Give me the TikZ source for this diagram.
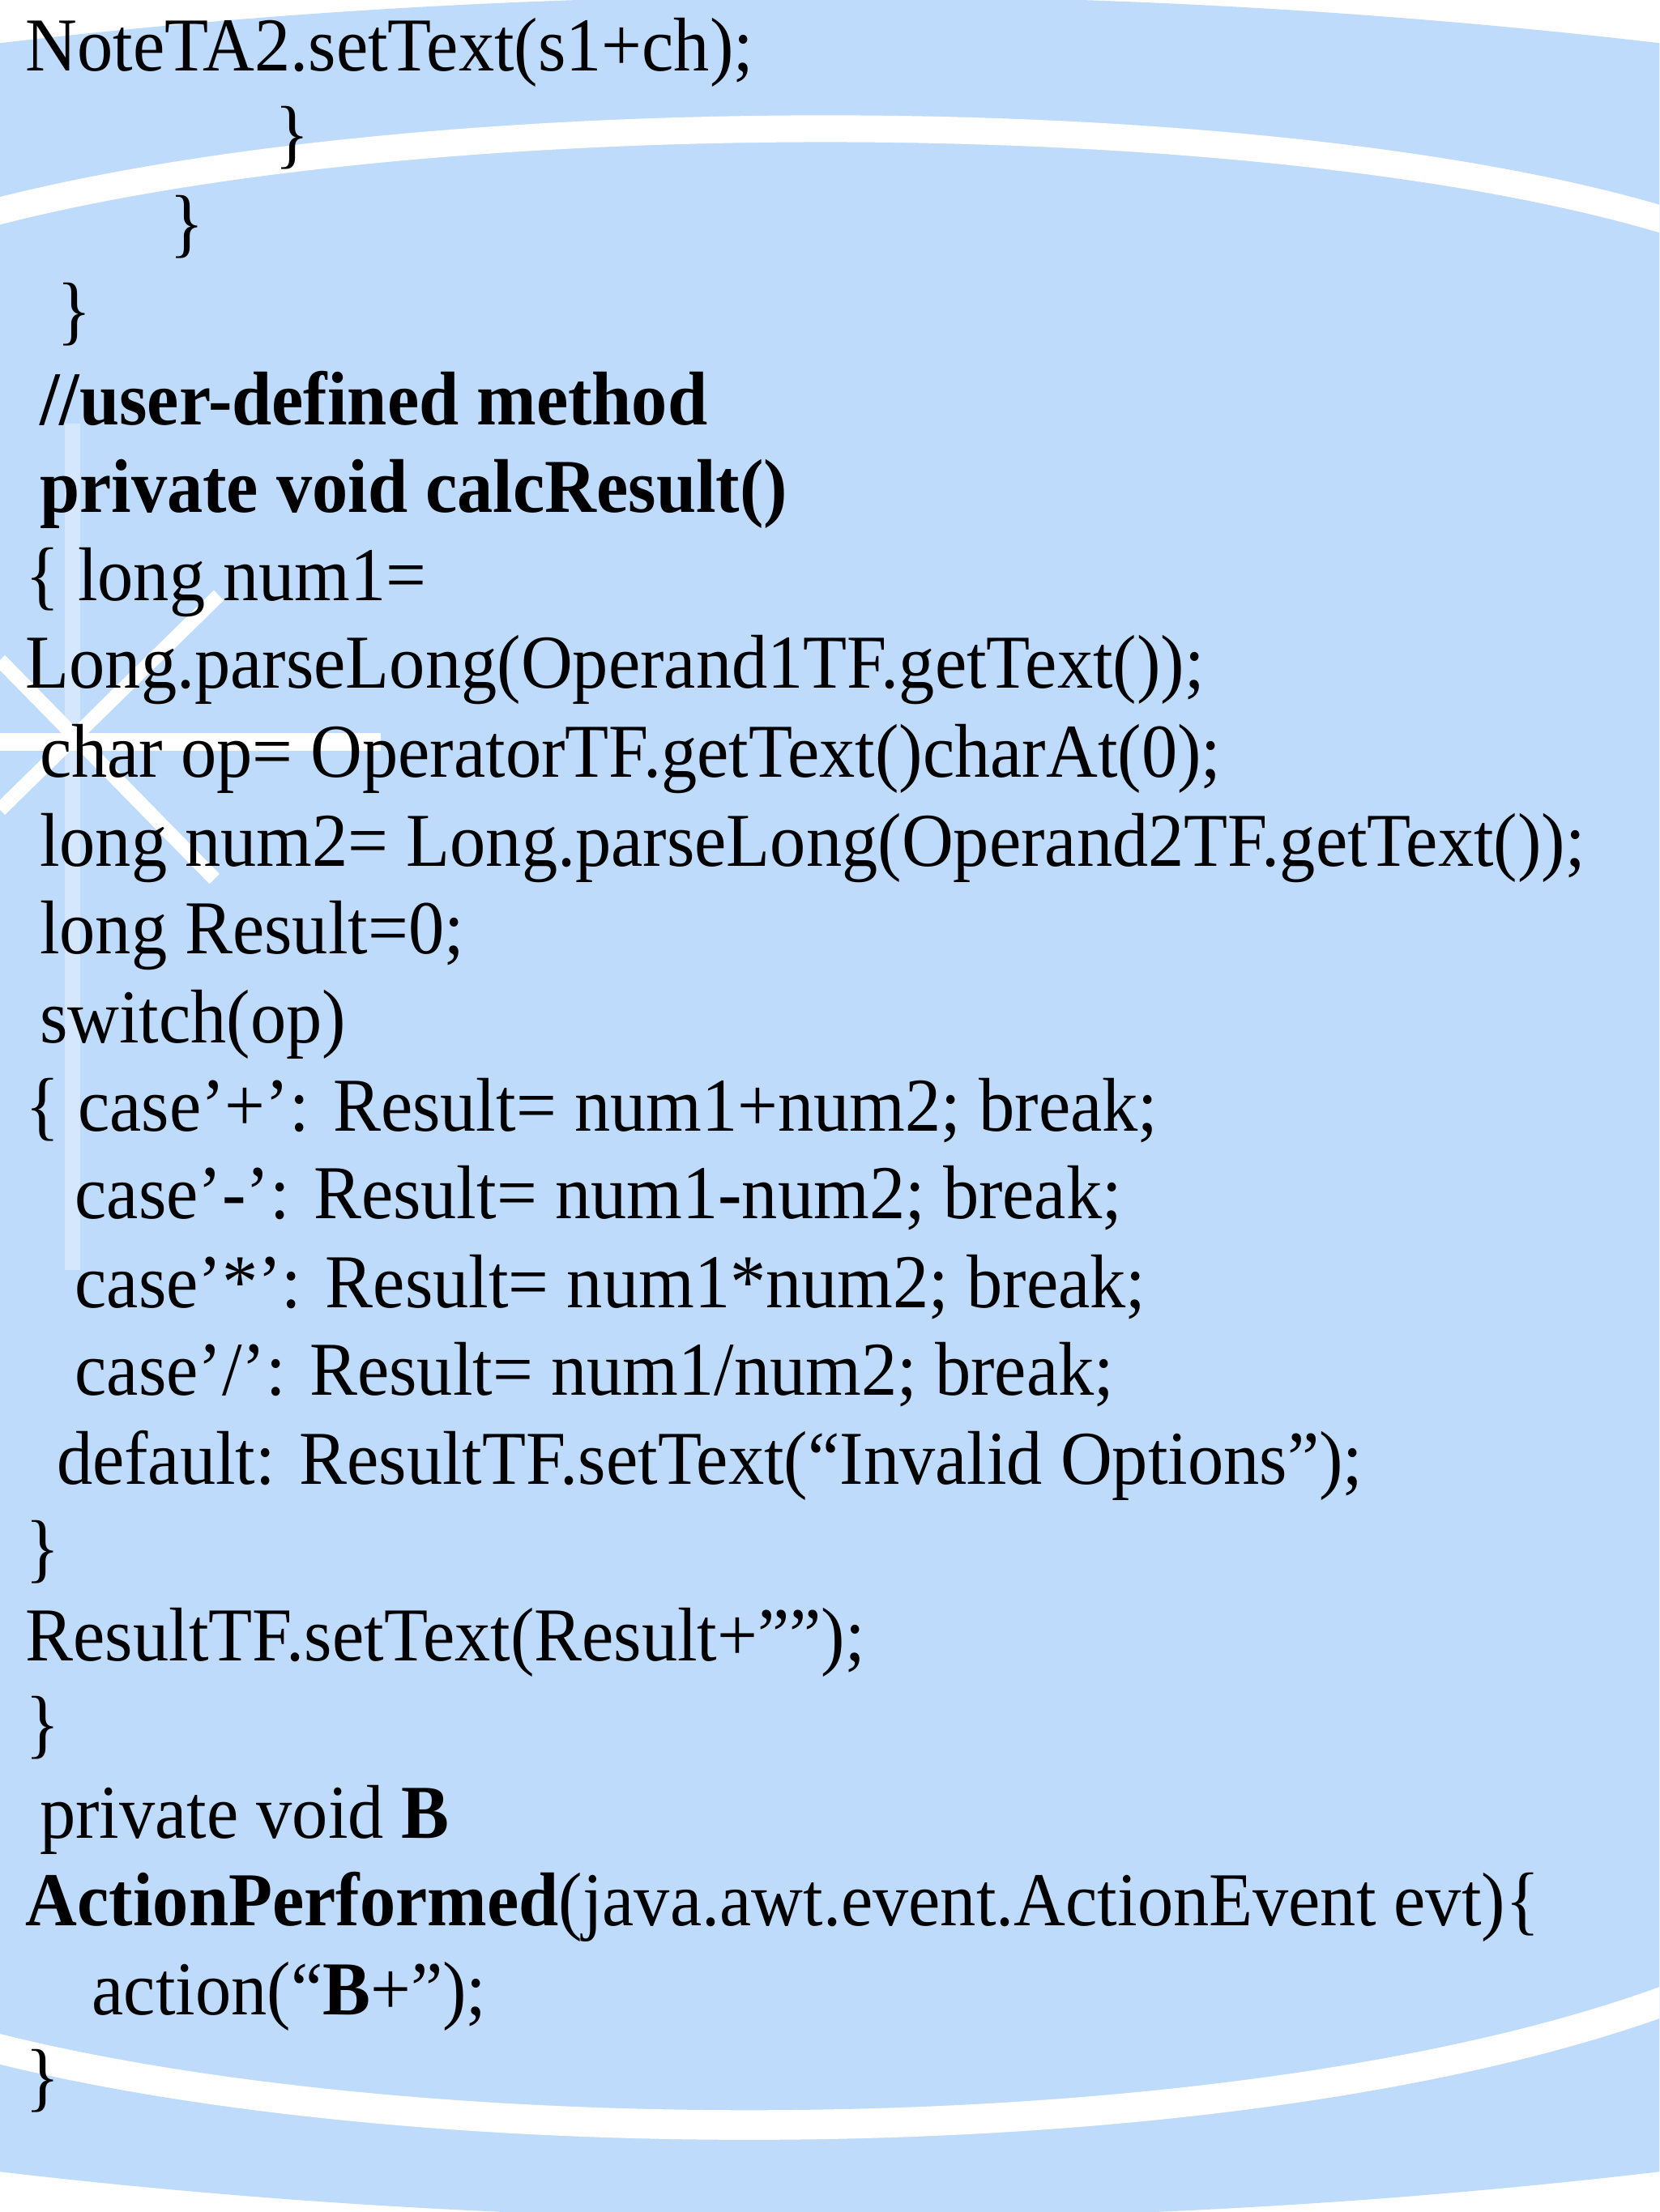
\documentclass[tikz,border=0pt]{standalone}
\usepackage{fontspec}
\setmainfont[FakeStretch=0.94]{Liberation Serif}
\definecolor{bg}{RGB}{191,219,251}
\begin{document}
\begin{tikzpicture}[x=1pt,y=-1pt,
  code/.style={anchor=base west,inner sep=0pt,font=\fontsize{54}{62}\selectfont},
  band/.style={white,line width=#1}]
\useasboundingbox (0,0) rectangle (1176,1568);
\fill[white] (0,0) rectangle (1176,1568);
\begin{scope}
\clip (0,0) rectangle (1176,1568);
\fill[bg] (588,785) ellipse [x radius=2030, y radius=788];
\draw[band=19] (-10,152) .. controls (300,70) and (900,70) .. (1186,158);
\draw[band=21] (-10,1450) .. controls (300,1530) and (880,1530) .. (1186,1416);
% star burst on the left
\fill[white,opacity=0.35] (46,300) rectangle (57,900);
\draw[band=13] (0,526) -- (270,526);
\draw[band=10] (0,468) -- (152,623);
\draw[band=10] (155,422) -- (0,574);
\end{scope}
\node[code] (l1) at (18,50) {NoteTA2.setText(s1+ch);};
\node[code] (l2) at (195,113) {\}};
\node[code] (l3) at (120,176) {\}};
\node[code] (l4) at (40,238) {\}};
\node[code] (l5) at (28,301) {\textbf{//user-defined method}};
\node[code] (l6) at (28,363) {\textbf{private void calcResult()}};
\node[code] (l7) at (18,426) {\{ long num1=};
\node[code] (l8) at (18,488) {Long.parseLong(Operand1TF.getText());};
\node[code] (l9) at (28,551) {char op= OperatorTF.getText()charAt(0);};
\node[code] (l10) at (28,614) {long num2= Long.parseLong(Operand2TF.getText());};
\node[code] (l11) at (28,676) {long Result=0;};
\node[code] (l12) at (28,739) {switch(op)};
\node[code] (l13) at (18,802) {\{ case’+’: Result= num1+num2; break;};
\node[code] (l14) at (53,864) {case’-’: Result= num1-num2; break;};
\node[code] (l15) at (53,927) {case’*’: Result= num1*num2; break;};
\node[code] (l16) at (53,989) {case’/’: Result= num1/num2; break;};
\node[code] (l17) at (40,1052) {default: ResultTF.setText(“Invalid Options”);};
\node[code] (l18) at (18,1115) {\}};
\node[code] (l19) at (18,1177) {ResultTF.setText(Result+””);};
\node[code] (l20) at (18,1240) {\}};
\node[code] (l21) at (28,1303) {private void \textbf{B}};
\node[code] (l22) at (18,1365) {\textbf{ActionPerformed}(java.awt.event.ActionEvent evt)\{};
\node[code] (l23) at (65,1428) {action(“\textbf{B}+”);};
\node[code] (l24) at (18,1490) {\}};
\end{tikzpicture}
\end{document}
